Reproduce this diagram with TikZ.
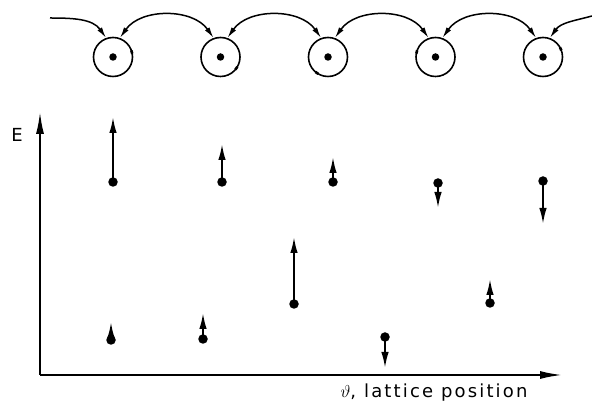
\documentclass[tikz,border=0pt]{standalone}
\usepackage{fontspec}
\setmainfont{DejaVu Sans}[LetterSpace=12]
\usetikzlibrary{arrows.meta}
\begin{document}
\begin{tikzpicture}[x=1pt,y=1pt,
  site/.style={circle,draw,line width=1.6pt,minimum size=39pt,inner sep=0pt},
  core/.style={circle,fill,minimum size=7.5pt,inner sep=0pt},
  spinbase/.style={circle,fill,minimum size=9.5pt,inner sep=0pt},
  hop/.style={line width=1.5pt,{Latex[length=11pt,width=5.5pt]}-{Latex[length=11pt,width=5.5pt]}},
  hopin/.style={line width=1.5pt,-{Latex[length=11pt,width=5.5pt]}},
  spin/.style={line width=1.9pt,-{Latex[length=16pt,width=7.5pt]}},
  axis/.style={line width=1.8pt,-{Latex[length=22pt,width=8pt]}},
  phase/.style={line width=2.6pt},
  lbl/.style={font=\fontsize{18}{20}\selectfont,inner sep=0pt}
]
\useasboundingbox (0,0) rectangle (592,412);

% row of lattice sites with their precession cones seen from above
\foreach \i/\x/\a in {1/113/15, 2/220.5/-35, 3/328/-125, 4/435.5/165, 5/543/25}{
  \node[site] (c\i) at (\x,355) {};
  \node[core] (k\i) at (c\i.center) {};
  \draw[phase] (c\i.center) ++(\a-5:19.5) arc[start angle=\a-5, end angle=\a+5, radius=19.5];
}

% coupling between neighbouring sites
\coordinate (L) at (50,394);
\coordinate (R) at (592,396);
\draw[hopin] (L) to[out=0,in=125] (c1.110);
\foreach \i/\j in {1/2,2/3,3/4,4/5}{
  \draw[hop] (c\i.70) to[out=55,in=125] (c\j.110);
}
\draw[hopin] (R) to[out=195,in=55] (c5.70);

% axes
\coordinate (O) at (40,37);
\coordinate (Etop) at (40,300);
\coordinate (Xend) at (562,37);
\draw[axis] (O) -- (Etop);
\draw[axis] (O) -- (Xend);
\node[lbl] (E) at (17,277) {E};
\node[lbl] (pos) at (434,19) {$\vartheta$, lattice position};

% spin vectors at each site
\foreach \n/\x/\y/\t in {1/113/230/295, 2/222/230/268, 3/333/230/255, 4/438/229/204,
  5/543/231/188, 6/111/72/90, 7/203/73/99, 8/294/108/175, 9/385/75/44, 10/490/109/133}{
  \node[spinbase] (s\n) at (\x,\y) {};
  \coordinate (t\n) at (\x,\t);
  \draw[spin] (s\n.center) -- (t\n);
}
\end{tikzpicture}
\end{document}
